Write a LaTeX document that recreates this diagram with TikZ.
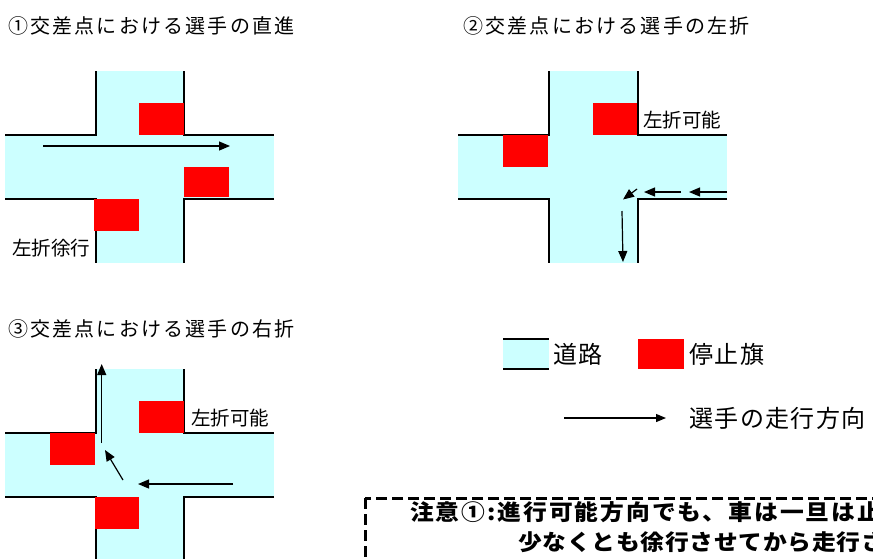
\documentclass[tikz,border=0pt]{standalone}
\usepackage{fontspec}
\setmainfont{Noto Sans CJK JP}
\usetikzlibrary{arrows.meta}
\definecolor{roadcol}{HTML}{CCFFFF}
\definecolor{flagcol}{HTML}{FF0000}
\newcommand{\xroad}[8]{%
  % #1 vl, #2 vr, #3 vt, #4 vb, #5 hl, #6 hr, #7 ht, #8 hb
  \fill[roadcol] (#1,#3) rectangle (#2,#4);
  \fill[roadcol] (#5,#7) rectangle (#6,#8);
  \draw[roadedge] (#1,#3) -- (#1,#7) -- (#5,#7);
  \draw[roadedge] (#2,#3) -- (#2,#7) -- (#6,#7);
  \draw[roadedge] (#5,#8) -- (#1,#8) -- (#1,#4);
  \draw[roadedge] (#6,#8) -- (#2,#8) -- (#2,#4);
}
\begin{document}
\begin{tikzpicture}[x=1pt,y=-1pt,
  roadedge/.style={line width=2pt,line join=miter},
  flagbox/.style={fill=flagcol},
  runarrow/.style={line width=1.2pt,-{Triangle[length=11pt,width=9pt]}},
  titletext/.style={anchor=west,inner sep=0pt,font=\fontsize{20}{24}\selectfont\addfontfeatures{LetterSpace=11}},
  labeltext/.style={anchor=west,inner sep=0pt,font=\fontsize{19.5}{23}\selectfont},
  legendtext/.style={anchor=west,inner sep=0pt,font=\fontsize{24}{28}\selectfont\addfontfeatures{LetterSpace=6}},
  notetext/.style={anchor=west,inner sep=0pt,font=\fontsize{22}{26}\bfseries\selectfont\addfontfeatures{FakeStretch=1.08,LetterSpace=3.4}},
  notetexta/.style={anchor=west,inner sep=0pt,font=\fontsize{22}{26}\bfseries\selectfont\addfontfeatures{FakeStretch=1.08,LetterSpace=9}},
  notebox/.style={line width=3pt,dash pattern=on 11pt off 5pt}]
\useasboundingbox (0,0) rectangle (873,558);
\begin{scope}
\clip (0,0) rectangle (873,558);
% ---- titles
\node[titletext] (t1) at (8,26) {①交差点における選手の直進};
\node[titletext] (t2) at (463,26) {②交差点における選手の左折};
\node[titletext] (t3) at (8,329) {③交差点における選手の右折};
% ---- crossroad 1
\xroad{95.5}{184}{71}{263}{5}{274}{135}{199}
\fill[flagbox] (139,103) rectangle (184,135);
\fill[flagbox] (184,167) rectangle (229,197);
\fill[flagbox] (94,199) rectangle (139,231);
\coordinate (a1s) at (43,146);
\coordinate (a1e) at (230,146);
\draw[runarrow] (a1s) -- (a1e);
\node[labeltext] (l1) at (12,248) {左折徐行};
% ---- crossroad 2
\xroad{549}{638}{71}{263}{458}{727}{135}{199}
\fill[flagbox] (593,103) rectangle (637,135);
\fill[flagbox] (503,135) rectangle (548,167);
\node[labeltext] (l2) at (643,120) {左折可能};
\coordinate (b1s) at (727,192);
\coordinate (b1e) at (689,192);
\coordinate (b2s) at (681,192);
\coordinate (b2e) at (644,192);
\coordinate (b3s) at (637,189);
\coordinate (b3e) at (623,199.5);
\coordinate (b4s) at (622,211);
\coordinate (b4e) at (623,262);
\draw[runarrow] (b1s) -- (b1e);
\draw[runarrow] (b2s) -- (b2e);
\draw[runarrow] (b3s) -- (b3e);
\draw[runarrow] (b4s) -- (b4e);
% ---- crossroad 3
\xroad{95.5}{184}{369}{560}{5}{274}{433}{497}
\fill[flagbox] (139,401) rectangle (184,433);
\fill[flagbox] (50,433) rectangle (95,465);
\fill[flagbox] (95,497) rectangle (139,529);
\node[labeltext] (l3) at (191,418) {左折可能};
\coordinate (c1s) at (233,484);
\coordinate (c1e) at (138,484);
\coordinate (c2s) at (123,480);
\coordinate (c2e) at (105,450);
\coordinate (c3s) at (101.7,443);
\coordinate (c3e) at (101.7,364);
\draw[runarrow] (c1s) -- (c1e);
\draw[runarrow] (c2s) -- (c2e);
\draw[runarrow] (c3s) -- (c3e);
% ---- legend
\fill[roadcol] (503,339) rectangle (549,369);
\draw[roadedge] (503,339) -- (549,339);
\draw[roadedge] (503,369) -- (549,369);
\node[legendtext] (lg1) at (553,354) {道路};
\fill[flagbox] (638,339) rectangle (684,369);
\node[legendtext] (lg2) at (689,354) {停止旗};
\coordinate (ls) at (564,418);
\coordinate (le) at (666,418);
\draw[line width=1.2pt,-{Triangle[length=10pt,width=8pt]}] (ls) -- (le);
\node[legendtext] (lg3) at (689,418) {選手の走行方向};
% ---- note box
\draw[notebox] (365,498) rectangle (890,600);
\node[notetexta] (n1) at (410,512) {注意①:進行可能方向でも、車は一旦は止};
\node[notetext] (n2) at (518,542) {少なくとも徐行させてから走行さ};
\end{scope}
\end{tikzpicture}
\end{document}
